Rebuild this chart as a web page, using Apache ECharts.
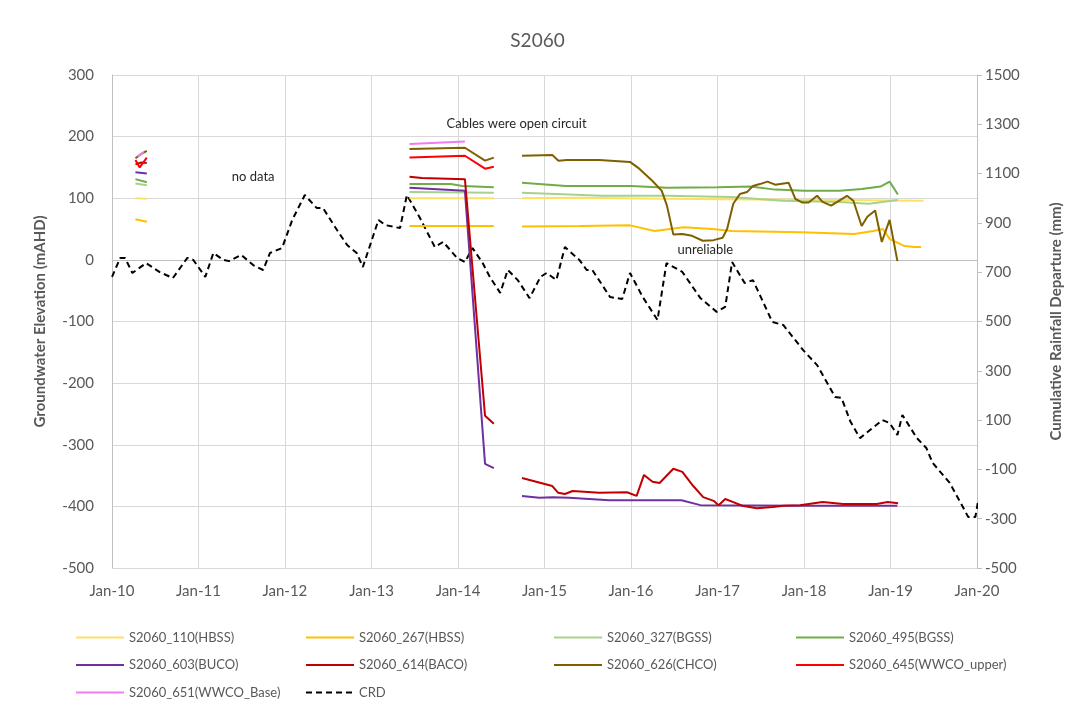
<!DOCTYPE html>
<html>
<head>
<meta charset="utf-8">
<title>S2060</title>
<script src="https://cdn.jsdelivr.net/npm/echarts@6/dist/echarts.min.js"></script>
<style>
  html, body { margin: 0; padding: 0; background: #fff; }
  #chart { width: 1075px; height: 708px; }
</style>
</head>
<body>
<div id="chart"></div>
<script>
// groundwater levels (mAHD), '-' breaks the line where there is no data
var s110 = [['2010-04-10', 100], ['2010-05-28', 99], ['2012-01-01', '-'],
  ['2013-06-10', 100], ['2014-06-01', 100], ['2014-08-01', '-'],
  ['2014-09-28', 100], ['2015-06-01', 101], ['2016-06-01', 99], ['2017-06-01', 98], ['2018-06-01', 97], ['2019-05-20', 96]];
var s267 = [['2010-04-10', 66], ['2010-05-28', 62], ['2012-01-01', '-'],
  ['2013-06-10', 55], ['2014-06-01', 55], ['2014-08-01', '-'],
  ['2014-09-28', 54], ['2015-06-01', 55], ['2015-12-28', 56], ['2016-04-10', 47], ['2016-08-10', 53], ['2016-12-10', 50],
  ['2017-03-01', 47], ['2017-12-20', 45], ['2018-08-01', 42], ['2018-10-20', 47], ['2018-11-30', 50], ['2018-12-28', 34],
  ['2019-02-25', 23], ['2019-04-10', 21], ['2019-05-10', 21]];
var s327 = [['2010-04-10', 124], ['2010-05-28', 121], ['2012-01-01', '-'],
  ['2013-06-10', 110], ['2014-06-01', 109], ['2014-08-01', '-'],
  ['2014-09-28', 109], ['2015-09-01', 104], ['2016-06-01', 104], ['2017-03-01', 102], ['2017-10-01', 96],
  ['2018-06-01', 94], ['2018-10-01', 91], ['2019-02-01', 97]];
var s495 = [['2010-04-10', 131], ['2010-05-28', 126], ['2012-01-01', '-'],
  ['2013-06-10', 123], ['2013-12-01', 123], ['2014-01-20', 120], ['2014-06-01', 118], ['2014-08-01', '-'],
  ['2014-09-28', 125], ['2015-04-01', 120], ['2016-01-01', 120], ['2016-06-01', 117], ['2017-01-01', 118], ['2017-05-20', 119],
  ['2017-09-01', 114], ['2018-01-01', 112], ['2018-06-01', 112], ['2018-09-01', 115], ['2018-11-20', 119], ['2018-12-28', 127],
  ['2019-02-01', 106]];
var s603 = [['2010-04-10', 142], ['2010-05-28', 140], ['2012-01-01', '-'],
  ['2013-06-10', 117], ['2014-01-30', 112], ['2014-04-25', -331], ['2014-06-01', -338], ['2014-08-01', '-'],
  ['2014-09-28', -383], ['2014-12-10', -386], ['2015-02-05', -385], ['2015-04-15', -386], ['2015-10-01', -390],
  ['2016-08-01', -390], ['2016-10-20', -398], ['2017-12-28', -399], ['2019-01-30', -399]];
var s614 = [['2010-04-10', 155], ['2010-05-05', 158], ['2010-05-28', 157], ['2012-01-01', '-'],
  ['2013-06-10', 135], ['2013-08-01', 133], ['2014-01-30', 131], ['2014-04-25', -253], ['2014-06-01', -266], ['2014-08-01', '-'],
  ['2014-09-28', -354], ['2015-02-03', -367], ['2015-02-28', -378], ['2015-03-28', -380], ['2015-04-30', -375],
  ['2015-08-20', -378], ['2015-12-15', -377], ['2016-01-25', -383], ['2016-02-25', -349], ['2016-04-01', -360],
  ['2016-05-01', -362], ['2016-06-28', -339], ['2016-08-05', -344], ['2016-09-20', -367], ['2016-11-01', -385],
  ['2016-12-15', -391], ['2017-01-05', -398], ['2017-02-02', -388], ['2017-03-08', -393], ['2017-04-15', -399],
  ['2017-06-15', -403], ['2017-08-22', -401], ['2017-10-05', -399], ['2017-12-15', -398], ['2018-03-20', -393],
  ['2018-06-15', -396], ['2018-11-03', -396], ['2018-12-20', -393], ['2019-02-02', -395]];
var s626 = [['2010-04-10', 165], ['2010-05-05', 172], ['2010-05-28', 177], ['2012-01-01', '-'],
  ['2013-06-10', 180], ['2014-01-30', 182], ['2014-04-25', 161], ['2014-06-01', 166], ['2014-08-01', '-'],
  ['2014-09-28', 169], ['2015-02-03', 170], ['2015-03-01', 161], ['2015-04-05', 162], ['2015-08-20', 162],
  ['2015-12-28', 159], ['2016-02-05', 148], ['2016-04-01', 128], ['2016-05-10', 112], ['2016-06-01', 88],
  ['2016-06-28', 41], ['2016-08-05', 42], ['2016-09-15', 39], ['2016-10-30', 31], ['2016-12-15', 32],
  ['2017-01-22', 36], ['2017-02-10', 50], ['2017-03-08', 91], ['2017-04-05', 107], ['2017-05-05', 110],
  ['2017-05-30', 120], ['2017-06-28', 123], ['2017-07-30', 127], ['2017-09-01', 122], ['2017-10-28', 125],
  ['2017-11-25', 99], ['2017-12-25', 93], ['2018-01-20', 93], ['2018-02-25', 104], ['2018-03-20', 94],
  ['2018-04-25', 88], ['2018-07-01', 104], ['2018-07-28', 96], ['2018-09-01', 55], ['2018-09-25', 70],
  ['2018-10-28', 80], ['2018-11-25', 29], ['2018-12-28', 65], ['2019-01-30', -2]];
var s645 = [['2010-04-10', 162], ['2010-04-28', 150], ['2010-05-28', 166], ['2012-01-01', '-'],
  ['2013-06-10', 166], ['2014-01-30', 169], ['2014-04-25', 148], ['2014-06-01', 151]];
var s651 = [['2010-04-20', 168], ['2010-05-15', 175], ['2012-01-01', '-'],
  ['2013-06-10', 188], ['2014-01-30', 192]];

// cumulative rainfall departure (mm), right axis
var crd = [['2010-01-01', 681], ['2010-02-05', 758], ['2010-02-25', 758], ['2010-03-28', 697], ['2010-05-25', 737],
  ['2010-07-20', 701], ['2010-09-15', 676], ['2010-11-15', 758], ['2010-12-10', 750], ['2011-01-30', 681],
  ['2011-03-05', 778], ['2011-04-15', 750], ['2011-05-10', 745], ['2011-07-01', 770], ['2011-08-20', 729],
  ['2011-10-01', 709], ['2011-10-30', 778], ['2011-12-20', 798], ['2012-02-01', 912], ['2012-03-25', 1013],
  ['2012-05-15', 960], ['2012-06-10', 960], ['2012-08-08', 871], ['2012-09-20', 810], ['2012-10-30', 778],
  ['2012-11-25', 721], ['2013-01-30', 912], ['2013-02-28', 891], ['2013-05-01', 879], ['2013-05-30', 1013],
  ['2013-07-22', 924], ['2013-09-25', 802], ['2013-10-30', 823], ['2013-12-28', 758], ['2014-01-30', 741],
  ['2014-03-03', 798], ['2014-04-15', 737], ['2014-05-15', 681], ['2014-06-28', 616], ['2014-07-30', 709],
  ['2014-09-10', 668], ['2014-10-30', 595], ['2014-12-15', 681], ['2015-01-10', 697], ['2015-02-20', 668],
  ['2015-03-28', 802], ['2015-05-28', 750], ['2015-06-28', 709], ['2015-07-22', 709], ['2015-10-05', 599],
  ['2015-11-25', 591], ['2015-12-28', 697], ['2016-02-20', 599], ['2016-04-22', 506], ['2016-05-30', 737],
  ['2016-08-05', 701], ['2016-10-20', 595], ['2016-12-28', 539], ['2017-02-02', 559], ['2017-03-03', 741],
  ['2017-04-25', 656], ['2017-05-30', 668], ['2017-08-20', 498], ['2017-10-05', 486], ['2017-12-28', 384],
  ['2018-02-25', 323], ['2018-05-12', 194], ['2018-06-08', 190], ['2018-07-15', 95], ['2018-08-25', 27],
  ['2018-11-28', 100], ['2018-12-28', 88], ['2019-01-30', 40], ['2019-02-20', 121], ['2019-04-22', 27],
  ['2019-06-01', -13], ['2019-06-28', -74], ['2019-09-08', -155], ['2019-11-25', -293], ['2019-12-25', -293],
  ['2020-01-05', -232]];

var leftTicks = { min: -500, max: 300, interval: 100 };
var rightTicks = { min: -500, max: 1500, interval: 200 };

var chart = echarts.init(document.getElementById('chart'));
var grey = '#595959';
var font = 'Lato, "Open Sans", sans-serif';

function line(name, data, color, yIndex, marks) {
  var s = {
    name: name,
    type: 'line',
    data: data,
    yAxisIndex: yIndex || 0,
    showSymbol: false,
    symbol: 'none',
    connectNulls: false,
    lineStyle: { color: color, width: 2 },
    itemStyle: { color: color },
    z: 3
  };
  if (marks) s.markPoint = marks;
  return s;
}

// annotation texts placed in data coordinates
var notes = {
  symbolSize: 0,
  silent: true,
  label: { show: true, position: 'inside', color: '#262626', fontSize: 13, fontFamily: font, formatter: '{b}' },
  data: [
    { name: 'no data', coord: ['2011-08-20', 135] },
    { name: 'Cables were open circuit', coord: ['2014-09-05', 221] },
    { name: 'unreliable', coord: ['2016-11-10', 16] }
  ]
};

var legendText = { color: grey, fontSize: 13, fontFamily: font };
function legendCol(left, names) {
  return {
    left: left, top: 626, orient: 'vertical', itemWidth: 48, itemHeight: 14, itemGap: 14.5,
    itemStyle: { opacity: 0 }, // line only, no symbol
    textStyle: legendText, data: names, selectedMode: false
  };
}

var option = {
  backgroundColor: '#fff',
  animation: false,
  title: {
    text: 'S2060', left: 'center', top: 26,
    textStyle: { color: grey, fontSize: 19, fontWeight: 'normal', fontFamily: font }
  },
  legend: [
    legendCol(70, ['S2060_110(HBSS)', 'S2060_603(BUCO)', 'S2060_651(WWCO_Base)']),
    legendCol(300, ['S2060_267(HBSS)', 'S2060_614(BACO)', 'CRD']),
    legendCol(548, ['S2060_327(BGSS)', 'S2060_626(CHCO)']),
    legendCol(790, ['S2060_495(BGSS)', 'S2060_645(WWCO_upper)'])
  ],
  grid: { left: 112, right: 98, top: 75, bottom: 140 },
  xAxis: {
    type: 'time',
    min: '2010-01-01',
    max: '2020-01-01',
    splitNumber: 10,
    minInterval: 365 * 24 * 3600 * 1000,
    axisLine: { lineStyle: { color: '#bfbfbf' } },
    axisTick: { show: false },
    splitLine: { show: true, lineStyle: { color: '#d9d9d9' } },
    axisLabel: {
      color: grey, fontSize: 15, fontFamily: font, margin: 16, hideOverlap: false,
      showMinLabel: true, showMaxLabel: true,
      formatter: function (v) {
        var d = new Date(v);
        return 'Jan-' + String(d.getFullYear()).slice(2);
      }
    }
  },
  yAxis: [
    {
      type: 'value',
      min: leftTicks.min, max: leftTicks.max, interval: leftTicks.interval,
      name: 'Groundwater Elevation (mAHD)',
      nameLocation: 'middle', nameGap: 64, nameRotate: 90,
      nameTextStyle: { color: grey, fontSize: 15, fontWeight: 'bold', fontFamily: font },
      axisLine: { show: true, lineStyle: { color: '#bfbfbf' } },
      axisTick: { show: false },
      splitLine: { lineStyle: { color: '#d9d9d9' } },
      axisLabel: { color: grey, fontSize: 15, fontFamily: font, margin: 18 }
    },
    {
      type: 'value',
      min: rightTicks.min, max: rightTicks.max, interval: rightTicks.interval,
      name: 'Cumulative Rainfall Departure (mm)',
      nameLocation: 'middle', nameGap: 72, nameRotate: 90,
      nameTextStyle: { color: grey, fontSize: 15, fontWeight: 'bold', fontFamily: font },
      axisLine: { show: true, lineStyle: { color: '#bfbfbf' } },
      axisTick: { show: true, length: 5, lineStyle: { color: '#bfbfbf' } },
      splitLine: { show: false },
      axisLabel: {
        color: grey, fontSize: 15, fontFamily: font, margin: 8,
        formatter: function (v) { return String(v); }
      }
    }
  ],
  series: [
    line('S2060_110(HBSS)', s110, '#FFE066', 0, notes),
    line('S2060_267(HBSS)', s267, '#FFC000'),
    line('S2060_327(BGSS)', s327, '#A9D18E'),
    line('S2060_495(BGSS)', s495, '#70AD47'),
    line('S2060_603(BUCO)', s603, '#7030A0'),
    line('S2060_614(BACO)', s614, '#C00000'),
    line('S2060_626(CHCO)', s626, '#7F6000'),
    line('S2060_645(WWCO_upper)', s645, '#FF0000'),
    line('S2060_651(WWCO_Base)', s651, '#F07CF0'),
    {
      name: 'CRD',
      type: 'line',
      yAxisIndex: 1,
      data: crd,
      showSymbol: false,
      symbol: 'none',
      lineStyle: { color: '#000', width: 2, type: [6, 4] },
      itemStyle: { color: '#000' },
      z: 2
    }
  ]
};

chart.setOption(option);
</script>
</body>
</html>
